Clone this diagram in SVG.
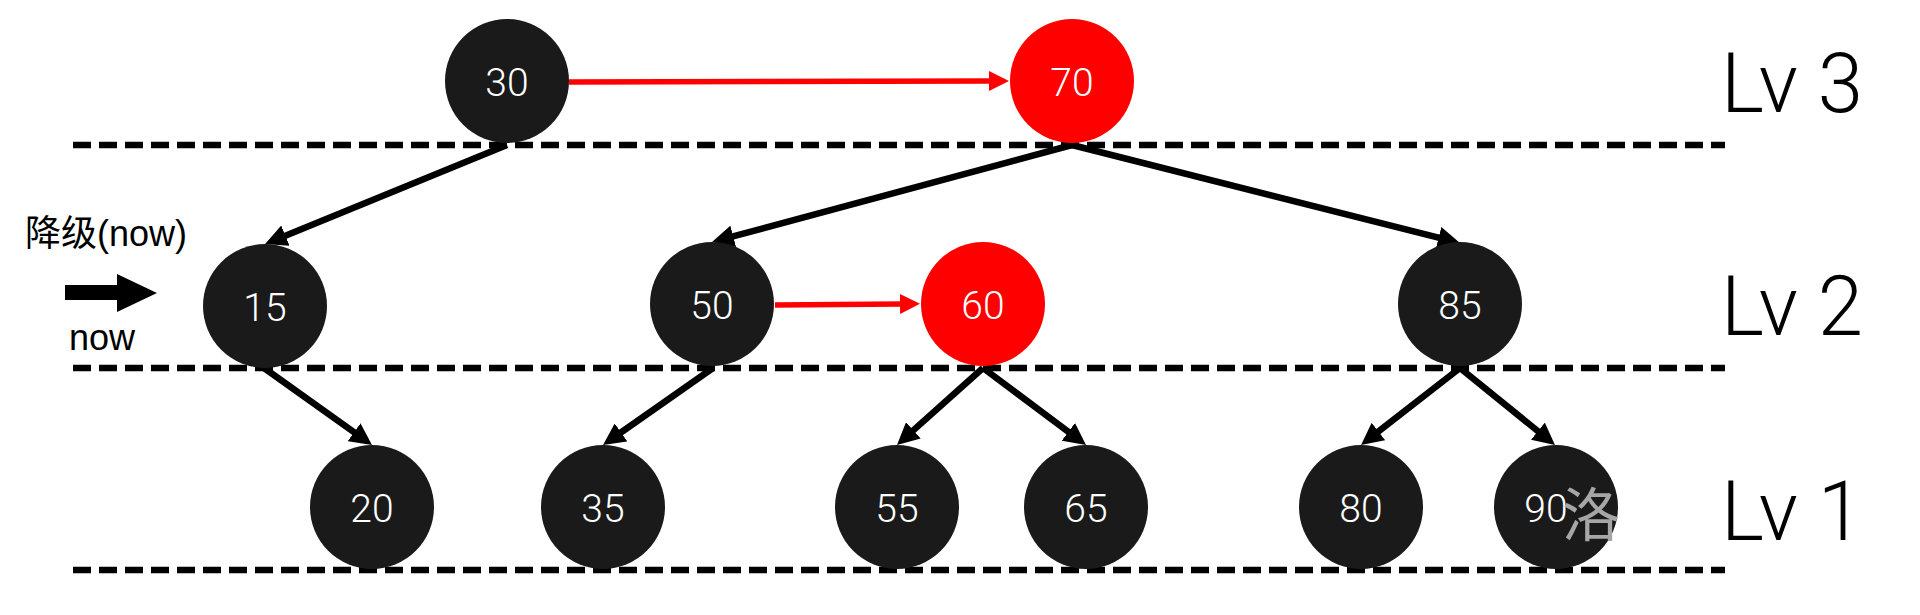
<svg xmlns="http://www.w3.org/2000/svg" width="1920" height="615" viewBox="0 0 1920 615">
<style>
.bg{fill:#ffffff}
.dash{stroke:#000;stroke-width:6.5;stroke-dasharray:18 8;fill:none}
.blk{fill:#1a1a1a}
.red{fill:#ff0000}
.lbl{fill:#ffffff;font-family:Roboto,"Liberation Sans",sans-serif;font-weight:300;font-size:39px;text-anchor:middle}
.lv{fill:#000;font-family:Roboto,"Liberation Sans",sans-serif;font-weight:300;font-size:84px}
.e{stroke:#000;stroke-width:6.5;fill:none;marker-end:url(#ah)}
.r{stroke:#ff0000;stroke-width:5.5;fill:none;marker-end:url(#rh)}
.note{fill:#000;font-family:"Liberation Sans","Noto Sans CJK SC",sans-serif;font-size:36px}
</style>
<defs>
<marker id="ah" markerUnits="userSpaceOnUse" markerWidth="22" markerHeight="22" viewBox="0 0 22 22" refX="8" refY="11" orient="auto"><path d="M0,0 L22,11 L0,22 z" fill="#000"/></marker>
<marker id="rh" markerUnits="userSpaceOnUse" markerWidth="20" markerHeight="20" viewBox="0 0 20 20" refX="2" refY="10" orient="auto"><path d="M0,0 L20,10 L0,20 z" fill="#ff0000"/></marker>
</defs>
<rect class="bg" x="0" y="0" width="1920" height="615"/>
<g id="levels">
<line class="dash" x1="73" y1="145" x2="1725" y2="145"/>
<line class="dash" x1="73" y1="368" x2="1725" y2="368"/>
<line class="dash" x1="73" y1="570" x2="1725" y2="570"/>
<text class="lv" x="1721" y="112" textLength="142" lengthAdjust="spacingAndGlyphs">Lv 3</text>
<text class="lv" x="1721" y="335" textLength="142" lengthAdjust="spacingAndGlyphs">Lv 2</text>
<text class="lv" x="1721" y="540" textLength="142" lengthAdjust="spacingAndGlyphs">Lv 1</text>
</g>
<g id="connectors">
<line class="r" x1="569" y1="82" x2="991" y2="81"/>
<line class="r" x1="775" y1="305" x2="902" y2="304"/>
<line class="e" x1="507" y1="145" x2="278" y2="238.7"/>
<line class="e" x1="1072" y1="145" x2="725.5" y2="238.4"/>
<line class="e" x1="1072" y1="145" x2="1446.4" y2="239.6"/>
<line class="e" x1="264" y1="368" x2="360.6" y2="436.9"/>
<line class="e" x1="713" y1="368" x2="614.5" y2="437"/>
<line class="e" x1="983" y1="368" x2="907.4" y2="435.7"/>
<line class="e" x1="983" y1="368" x2="1074.8" y2="436.6"/>
<line class="e" x1="1460" y1="368" x2="1372.1" y2="436.4"/>
<line class="e" x1="1460" y1="368" x2="1544.1" y2="436.2"/>
</g>
<g id="n30"><circle class="blk" cx="507" cy="81" r="62"/><text class="lbl" x="507" y="96">30</text></g>
<g id="n70"><circle class="red" cx="1072" cy="81" r="62"/><text class="lbl" x="1072" y="96">70</text></g>
<g id="n15"><circle class="blk" cx="265" cy="306" r="62"/><text class="lbl" x="265" y="321">15</text></g>
<g id="n50"><circle class="blk" cx="712" cy="304" r="62"/><text class="lbl" x="712" y="319">50</text></g>
<g id="n60"><circle class="red" cx="983" cy="304" r="62"/><text class="lbl" x="983" y="319">60</text></g>
<g id="n85"><circle class="blk" cx="1460" cy="304" r="62"/><text class="lbl" x="1460" y="319">85</text></g>
<g id="n20"><circle class="blk" cx="372" cy="507" r="62"/><text class="lbl" x="372" y="522">20</text></g>
<g id="n35"><circle class="blk" cx="603" cy="507" r="62"/><text class="lbl" x="603" y="522">35</text></g>
<g id="n55"><circle class="blk" cx="897" cy="507" r="62"/><text class="lbl" x="897" y="522">55</text></g>
<g id="n65"><circle class="blk" cx="1086" cy="507" r="62"/><text class="lbl" x="1086" y="522">65</text></g>
<g id="n80"><circle class="blk" cx="1361" cy="507" r="62"/><text class="lbl" x="1361" y="522">80</text></g>
<g id="n90"><circle class="blk" cx="1556" cy="507" r="62"/><text class="lbl" x="1546" y="522">90</text></g>
<g id="now-marker">
<text class="note" x="25" y="246">降级(now)</text>
<path d="M65,285 L117,285 L117,274 L157,293 L117,312 L117,300 L65,300 z" fill="#000"/>
<text class="note" x="69" y="350">now</text>
</g>
<text x="1562" y="536" fill="#a6a6a6" font-family="'Noto Sans CJK SC',sans-serif" font-size="58">洛</text>
</svg>
